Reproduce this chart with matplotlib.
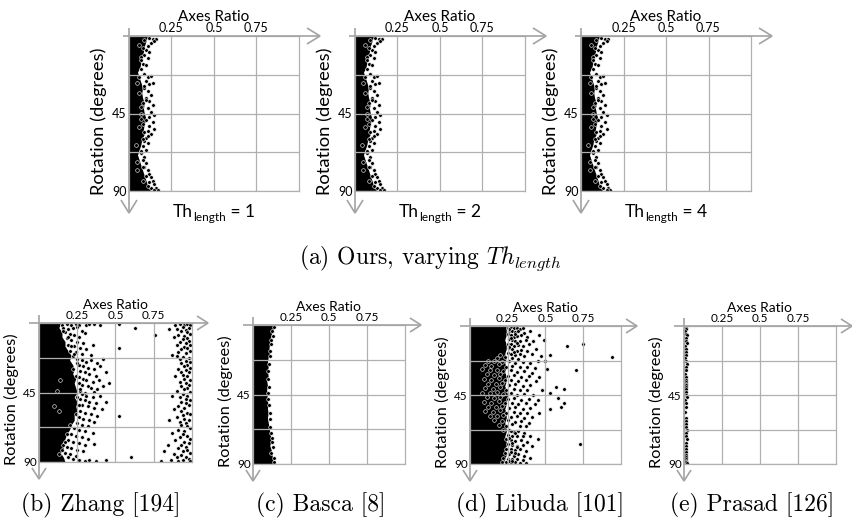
import matplotlib
matplotlib.use("Agg")
import matplotlib.pyplot as plt

# ---------------- data ----------------
# "Ours" panels (Th_length = 1, 2, 4 look identical)
ours_edge_rot = [0, 3, 6, 9, 12, 15, 18, 21, 24, 27, 30, 33, 36, 39, 42, 45, 48, 51, 54, 57, 60, 63, 66, 69, 72, 75, 78, 81, 84, 87, 90]
ours_edge_ratio = [.11, .10, .09, .085, .08, .07, .065, .05, .06, .07, .08, .075, .08, .09, .085, .09, .10, .09, .085, .09, .075, .07, .06, .05, .06, .07, .08, .09, .10, .11, .13]
ours_pts_ratio = [0.12, 0.14, 0.16, 0.13, 0.11, 0.15, 0.10, 0.12, 0.09, 0.11, 0.08, 0.10, 0.07, 0.09, 0.11, 0.13,
                  0.10, 0.12, 0.14, 0.09, 0.11, 0.13, 0.10, 0.12, 0.14, 0.11, 0.13, 0.15, 0.12, 0.10, 0.14, 0.12,
                  0.15, 0.11, 0.13, 0.10, 0.09, 0.11, 0.08, 0.10, 0.07, 0.09, 0.08, 0.10, 0.09, 0.11, 0.12, 0.10,
                  0.13, 0.14, 0.12, 0.15, 0.16, 0.13, 0.17, 0.15,
                  0.06, 0.07, 0.05, 0.06, 0.07, 0.07, 0.06, 0.04, 0.05, 0.08,
                  0.09, 0.08, 0.07, 0.06, 0.09, 0.10, 0.08, 0.07, 0.08, 0.09, 0.11, 0.08, 0.07, 0.05, 0.08, 0.11]
ours_pts_rot = [1, 2, 1.5, 4, 6, 3, 8, 9, 11, 13, 16, 17, 19, 22, 24, 23,
                26, 28, 27, 30, 32, 34, 36, 38, 40, 42, 44, 46, 47, 49, 50, 52,
                54, 55, 57, 59, 61, 62, 64, 66, 68, 70, 72, 74, 76, 78, 80, 81,
                82, 84, 85, 86, 88, 88.5, 89.5, 89.5,
                5, 12, 27, 33, 41, 48, 53, 63, 78, 84,
                2.5, 7, 14, 24, 29, 37, 39, 45, 51, 56, 58, 60, 67, 73, 76, 87]

# Zhang [194]
zhang_edge_rot = [0, 3, 6, 9, 12, 15, 18, 21, 24, 27, 30, 33, 36, 39, 42, 45, 48, 51, 54, 57, 60, 63, 66, 69, 72, 75, 78, 81, 84, 87, 90]
zhang_edge_ratio = [.14, .13, .15, .15, .17, .17, .19, .21, .20, .22, .23, .22, .24, .23, .24, .25, .23, .25, .24, .25, .23, .23, .21, .20, .18, .17, .15, .16, .14, .16, .17]
zhang_mid_ratio = [0.15, 0.18, 0.21, 0.24, 0.26, 0.31, 0.33, 0.36, 0.40, 0.52,
                   0.16, 0.19, 0.22, 0.25, 0.28, 0.17, 0.20, 0.23, 0.26, 0.30, 0.63, 0.18, 0.21, 0.25, 0.29, 0.76, 0.52, 0.35,
                   0.19, 0.23, 0.27, 0.31, 0.20, 0.24, 0.28, 0.34, 0.22,
                   0.25, 0.28, 0.31, 0.34, 0.38, 0.42, 0.26, 0.29, 0.32, 0.36, 0.40, 0.27, 0.30, 0.33, 0.37, 0.44,
                   0.26, 0.29, 0.31, 0.35, 0.39, 0.46, 0.28, 0.32, 0.34, 0.38, 0.27, 0.30, 0.36, 0.42, 0.14, 0.12,
                   0.28, 0.31, 0.35, 0.40, 0.27, 0.30, 0.33, 0.37, 0.44, 0.28, 0.32, 0.36, 0.41, 0.52, 0.27, 0.30,
                   0.34, 0.38, 0.26, 0.29, 0.33, 0.36, 0.25, 0.28, 0.32, 0.10, 0.13,
                   0.23, 0.26, 0.30, 0.35, 0.21, 0.24, 0.28, 0.32, 0.19, 0.22, 0.26, 0.30, 0.36, 0.18, 0.21, 0.25,
                   0.29, 0.17, 0.20, 0.24, 0.19, 0.22, 0.26, 0.30, 0.33, 0.37, 0.44, 0.60, 0.16, 0.13,
                   0.16, 0.19, 0.21, 0.23, 0.25, 0.22, 0.24, 0.26, 0.27, 0.25, 0.26, 0.24, 0.20, 0.18, 0.17, 0.15]
zhang_mid_rot = [1, 0.8, 1.2, 0.7, 1.0, 1.1, 0.9, 0.8, 1.3, 0.8,
                 3, 4, 3.5, 2.5, 5, 6, 7, 8, 9, 6.5, 3, 10, 11, 12, 13, 8, 16, 14,
                 14, 15, 16, 17, 18, 19, 20, 21, 21.5,
                 23, 24, 25, 24, 26, 23.5, 27, 28, 29, 30, 28, 31, 32, 33, 34, 32,
                 35, 36, 37, 38, 37, 39, 40, 41, 42, 43, 44, 45, 44.5, 41, 37, 44,
                 46, 47, 48, 47.5, 49, 50, 51, 52, 51, 53, 54, 55, 56, 60, 57, 58,
                 59, 60, 61, 62, 63, 64, 65, 66, 67, 54, 57,
                 68, 69, 70, 71, 72, 73, 74, 75, 76, 77, 78, 79, 78.5, 80, 81, 82,
                 83, 84, 85, 86, 87, 88, 89, 89.2, 88.8, 89.5, 89, 87, 79, 85,
                 5, 9, 15, 20, 26, 30, 34, 39, 43, 48, 53, 59, 66, 72, 77, 82]
zhang_right_ratio = [0.92, 0.95, 0.97, 0.89, 0.99, 0.94, 0.98, 0.90, 0.85, 0.96,
                     0.93, 0.97, 0.99, 0.91, 0.95, 0.88, 0.97, 0.94, 0.98, 0.92, 0.96, 0.99, 0.90,
                     0.95, 0.97, 0.93, 0.99, 0.91, 0.96, 0.87, 0.90, 0.94, 0.98, 0.92, 0.96, 0.99,
                     0.93, 0.97, 0.95, 0.99, 0.91, 0.96, 0.93, 0.98, 0.94, 0.97, 0.89,
                     0.95, 0.99, 0.92, 0.96, 0.98, 0.93, 0.97, 0.95, 0.90, 0.99,
                     0.94, 0.97, 0.92, 0.96, 0.99, 0.87, 0.93, 0.96, 0.98, 0.91, 0.95,
                     0.88, 0.93, 0.97, 0.99, 0.94, 0.90, 0.95, 0.98, 0.92, 0.96, 0.85,
                     0.93, 0.97, 0.99, 0.91, 0.95, 0.87, 0.94, 0.97, 0.92, 0.99,
                     0.89, 0.95, 0.98, 0.93, 0.96, 0.84, 0.91, 0.97, 0.94, 0.99, 0.88, 0.82,
                     0.93, 0.96, 0.90, 0.98, 0.86, 0.94, 0.99, 0.80, 0.91]
zhang_right_rot = [0.5, 1, 0.8, 1.5, 1.6, 2.5, 3, 3.8, 4, 4.5,
                   5.5, 6, 7, 7.5, 8.5, 9, 9.8, 10.5, 11.5, 12, 13, 14, 14.5,
                   15.5, 16.5, 17, 18, 19, 19.5, 21, 21.5, 22, 22.6, 23.5, 24.5, 25,
                   26, 27, 28, 29, 29.5, 30.5, 31.5, 32, 33.5, 34.5, 34,
                   36, 37, 38, 39, 40, 41, 42, 43, 44, 44.5,
                   46, 47, 48, 49, 50, 47, 51, 52, 53, 54, 55,
                   56, 57, 58, 59, 59.5, 61, 62, 63, 64, 65, 63,
                   66, 67, 68, 69, 70, 71, 72, 73, 74, 75,
                   76, 77, 78, 79, 80, 79, 81, 82, 83, 84, 84.5, 83,
                   85.5, 86.5, 87, 88, 88.5, 89, 89.5, 89.3, 89.6]

# Basca [8]
basca_edge_rot = [0, 3, 6, 9, 12, 15, 18, 21, 24, 27, 30, 33, 36, 39, 42, 45, 48, 51, 54, 57, 60, 63, 66, 69, 72, 75, 78, 81, 84, 87, 90]
basca_edge_ratio = [.13, .135, .12, .115, .11, .105, .11, .10, .095, .10, .095, .10, .09, .095, .09, .095, .09, .10, .095, .10, .095, .10, .105, .11, .115, .12, .11, .12, .125, .13, .135]
basca_pts_ratio = [0.14, 0.125, 0.13, 0.12, 0.115, 0.105, 0.10, 0.10, 0.105, 0.11, 0.12, 0.125, 0.13, 0.12, 0.135, 0.14,
                   0.12, 0.11, 0.10, 0.105, 0.10, 0.11, 0.115, 0.125]
basca_pts_rot = [1, 4, 7, 12, 17, 25, 35, 44, 52, 61, 70, 73, 79, 83, 86, 89,
                 10, 20, 30, 40, 48, 57, 66, 76]

# Libuda [101]
libuda_edge_rot = [0, 3, 6, 9, 12, 15, 18, 21, 24, 27, 30, 33, 36, 39, 42, 45, 48, 51, 54, 57, 60, 63, 66, 69, 72, 75, 78, 81, 84, 87, 90]
libuda_edge_ratio = [.24, .24, .24, .23, .24, .24, .23, .24, .23, .24, .23, .24, .24, .23, .24, .25, .24, .24, .23, .24, .24, .23, .24, .24, .23, .24, .24, .23, .24, .23, .22]
libuda_pts_ratio = [0.25, 0.27, 0.29, 0.31, 0.33, 0.35, 0.26, 0.28, 0.30, 0.32, 0.36, 0.40, 0.25, 0.27, 0.29, 0.31,
                    0.34, 0.38, 0.46, 0.26, 0.28, 0.30, 0.33, 0.37, 0.42, 0.49, 0.25, 0.27, 0.29, 0.32, 0.35, 0.39,
                    0.64, 0.75, 0.26, 0.28, 0.31, 0.34, 0.38, 0.44, 0.53, 0.25, 0.27, 0.30, 0.33, 0.36, 0.41, 0.47,
                    0.94, 0.23, 0.28, 0.32, 0.20, 0.18,
                    0.12, 0.16, 0.21, 0.26, 0.30, 0.35, 0.40, 0.45, 0.50, 0.10, 0.14, 0.19, 0.24, 0.28, 0.33, 0.38,
                    0.43, 0.08, 0.13, 0.18, 0.22, 0.27, 0.31, 0.36, 0.41, 0.51, 0.70, 0.11, 0.16, 0.20, 0.25, 0.29,
                    0.34, 0.39, 0.46, 0.09, 0.14, 0.19, 0.23, 0.27, 0.32, 0.37, 0.44, 0.12, 0.17, 0.21, 0.26, 0.30,
                    0.35, 0.40, 0.57, 0.62, 0.10, 0.15, 0.20, 0.24, 0.29, 0.33, 0.38, 0.48, 0.08, 0.13, 0.18, 0.22,
                    0.27, 0.31, 0.36, 0.42, 0.53,
                    0.11, 0.16, 0.20, 0.25, 0.29, 0.34, 0.39, 0.45, 0.58, 0.62, 0.09, 0.14, 0.19, 0.23, 0.28, 0.32,
                    0.37, 0.43, 0.12, 0.17, 0.21, 0.26, 0.30, 0.35, 0.40, 0.53, 0.60, 0.10, 0.15, 0.20, 0.24, 0.29,
                    0.33, 0.38, 0.46, 0.13, 0.18, 0.22, 0.27, 0.31, 0.36, 0.41, 0.16, 0.21, 0.25, 0.30, 0.34, 0.39,
                    0.19, 0.24, 0.28, 0.33, 0.37,
                    0.22, 0.26, 0.29, 0.32, 0.36, 0.25, 0.28, 0.31, 0.35, 0.40, 0.45, 0.24, 0.27, 0.30, 0.34, 0.38,
                    0.73, 0.25, 0.28, 0.31, 0.35, 0.41, 0.24, 0.27, 0.30, 0.33, 0.37, 0.23, 0.26, 0.29, 0.32, 0.36,
                    0.22, 0.25, 0.28, 0.31, 0.35, 0.40, 0.21, 0.24, 0.27, 0.30, 0.33, 0.37,
                    0.26, 0.30, 0.27, 0.31, 0.26, 0.29, 0.27, 0.30, 0.26, 0.28, 0.31, 0.27, 0.29, 0.26, 0.28, 0.30]
libuda_pts_rot = [1, 0.8, 1.5, 1.2, 2, 1, 3, 3.5, 4, 3, 4.5, 3, 5.5, 6, 7, 6.5,
                  6, 7, 6, 8.5, 9, 9.5, 10, 9, 10, 9, 11.5, 12, 13, 12.5, 13, 12,
                  13, 12, 14.5, 15, 16, 15.5, 16, 15, 19, 17.5, 18, 19, 18.5, 19.5, 18, 19.7,
                  20, 20.5, 21, 21.5, 19, 21,
                  23, 22.5, 23.5, 23, 24, 23.5, 24, 22.8, 23, 25.5, 26, 25, 26.5, 26, 27, 26.5,
                  27.5, 28, 29, 28.5, 29.5, 29, 30, 29.5, 30.5, 28, 29, 31.5, 32, 31, 32.5, 32,
                  33, 32.5, 33, 34.5, 35, 34, 35.5, 35, 36, 35.5, 36, 37.5, 38, 37, 38.5, 38,
                  39, 38.5, 40, 41, 40.5, 41, 40, 41.5, 41, 42, 41.5, 42, 43.5, 44, 43, 44.5,
                  44, 45, 44.5, 45, 44,
                  46.5, 47, 46, 47.5, 47, 48, 47.5, 48, 47, 50, 49.5, 50, 49, 50.5, 50, 51,
                  50.5, 51, 52.5, 53, 52, 53.5, 53, 54, 53.5, 54, 53, 55.5, 56, 55, 56.5, 56,
                  57, 56.5, 57, 58.5, 59, 58, 59.5, 59, 60, 59.5, 61.5, 62, 61, 62.5, 62, 63,
                  64.5, 65, 64, 65.5, 65,
                  67.5, 68, 69, 68.5, 69.5, 71, 71.5, 72, 71.5, 72, 74, 74, 74.5, 75, 74.5, 75.5,
                  77, 77, 77.5, 78, 77.5, 78.5, 80, 80.5, 81, 80.5, 81.5, 83, 83.5, 84, 83.5, 84.5,
                  86, 86.5, 87, 86.5, 87.5, 86, 88.5, 89, 89.3, 88.8, 89.5, 89.2,
                  2.2, 5, 8, 11, 14, 17, 68.8, 70, 73, 76, 79, 82, 85, 87.8, 88, 82.5]

# Prasad [126]
prasad_pts_ratio = [0.010, 0.015, 0.008, 0.012, 0.018, 0.010, 0.014, 0.020, 0.008, 0.012, 0.016, 0.010, 0.006,
                    0.012, 0.018, 0.010, 0.014, 0.008, 0.012, 0.010, 0.012, 0.014, 0.012, 0.010, 0.016, 0.010,
                    0.012, 0.018, 0.008, 0.014, 0.010, 0.006, 0.012, 0.010, 0.016, 0.012, 0.018, 0.010, 0.014,
                    0.020, 0.012, 0.016, 0.010, 0.014, 0.010, 0.016, 0.012, 0.014, 0.012, 0.018]
prasad_pts_rot = [1, 2, 3.5, 5, 6, 8, 9.5, 11, 13, 15, 17, 19, 21,
                  23, 25, 27, 29, 31, 33, 35, 36.5, 37.5, 38.5, 39.5, 41, 43,
                  45, 46, 48, 50, 53, 56, 60, 62, 64, 66, 68, 70, 72,
                  74, 76, 78, 80, 82, 84, 85.5, 87, 88, 89, 89.5]

top_labels = ["1", "2", "4"]
x_ticks = [0.25, 0.5, 0.75]
x_ticklabels = ["0.25", "0.5", "0.75"]
y_ticks = [22.5, 45, 67.5, 90]
y_ticklabels = ["", "45", "", "90"]
captions_bottom = ["(b) Zhang [194]", "(c) Basca [8]", "(d) Libuda [101]", "(e) Prasad [126]"]

# ---------------- layout ----------------
W, H = 853, 524
fig = plt.figure(figsize=(W / 100, H / 100), dpi=100)
SANS = ['Lato', 'DejaVu Sans']
GRID = '#b0b0b0'
ARROW = '#a3a3a3'

top_boxes = [(129, 36, 299, 191), (355, 36, 525, 191), (581, 36, 751, 191)]
bot_boxes = [(39, 323, 192, 462), (253, 325, 405, 464), (470, 326, 621, 464), (684, 326, 836, 464)]

ov = fig.add_axes([0, 0, 1, 1], zorder=10)
ov.set_xlim(0, W)
ov.set_ylim(H, 0)
ov.axis('off')
ov.patch.set_alpha(0)


def make_axes(box, fs_lab, fs_ylab, fs_tick):
    x0, y0, x1, y1 = box
    ax = fig.add_axes([x0 / W, 1 - y1 / H, (x1 - x0) / W, (y1 - y0) / H])
    ax.set_xlim(0, 1)
    ax.set_ylim(90, 0)
    ax.xaxis.tick_top()
    ax.xaxis.set_label_position('top')
    ax.set_xticks(x_ticks)
    ax.set_xticklabels(x_ticklabels, fontsize=fs_tick, family=SANS)
    ax.set_yticks(y_ticks)
    ax.set_yticklabels(y_ticklabels, fontsize=fs_tick, family=SANS)
    ax.tick_params(length=0, pad=1.5)
    ax.set_xlabel("Axes Ratio", fontsize=fs_lab, family=SANS, labelpad=1)
    ax.set_ylabel("Rotation (degrees)", fontsize=fs_ylab, family=SANS)
    ax.yaxis.set_label_coords(-0.13, 0.45)
    ax.grid(True, color=GRID, lw=0.9)
    ax.set_axisbelow(False)
    for sp in ax.spines.values():
        sp.set_color(GRID)
        sp.set_linewidth(0.9)
    return ax


def arrows(box, el, er, et, eb, hl, hw):
    x0, y0, x1, y1 = box
    kw = dict(color=ARROW, lw=1.2, solid_capstyle='butt', solid_joinstyle='miter')
    tip = x1 + er
    ov.plot([x0 - el, tip], [y0, y0], **kw)
    ov.plot([tip - hl, tip, tip - hl], [y0 - hw, y0, y0 + hw], **kw)
    tipy = y1 + eb
    ov.plot([x0, x0], [y0 - et, tipy], **kw)
    ov.plot([x0 - hw, x0, x0 + hw], [tipy - hl, tipy, tipy - hl], **kw)


def draw(ax, er=None, eratio=None, pr=None, prot=None, s=7):
    if er is not None:
        ax.fill_betweenx(er, 0, eratio, color='black', lw=0, zorder=1)
    if pr is not None:
        ax.scatter(pr, prot, s=s, c='black', edgecolors='white', linewidths=0.4,
                   marker='o', zorder=1.5)


renderer = fig.canvas.get_renderer()


def compose(pieces, cx, base_y):
    """pieces: list of (text, fontsize, baseline shift px); centred at cx."""
    objs = []
    total = 0
    for txt, fs, dy in pieces:
        t = ov.text(0, base_y + dy, txt, fontsize=fs, family=SANS, ha='left', va='baseline')
        w = t.get_window_extent(renderer).width
        objs.append((t, w))
        total += w
    x = cx - total / 2
    for t, w in objs:
        t.set_x(x)
        x += w


for box, lab in zip(top_boxes, top_labels):
    ax = make_axes(box, 11, 13.2, 9)
    draw(ax, ours_edge_rot, ours_edge_ratio, ours_pts_ratio, ours_pts_rot)
    arrows(box, 6, 21, 8, 22, 13, 8)
    x0, y0, x1, y1 = box
    compose([("Th", 12.5, 0), ("length", 8.5, 4), (" = " + lab, 12.5, 0)], (x0 + x1) / 2, y1 + 26)

axs_b = [make_axes(b, 10, 11.8, 8.5) for b in bot_boxes]
draw(axs_b[0], zhang_edge_rot, zhang_edge_ratio, zhang_mid_ratio, zhang_mid_rot)
draw(axs_b[0], None, None, zhang_right_ratio, zhang_right_rot)
draw(axs_b[1], basca_edge_rot, basca_edge_ratio, basca_pts_ratio, basca_pts_rot)
draw(axs_b[2], libuda_edge_rot, libuda_edge_ratio, libuda_pts_ratio, libuda_pts_rot)
draw(axs_b[3], None, None, prasad_pts_ratio, prasad_pts_rot)
for b in bot_boxes:
    arrows(b, 10, 16, 8, 17, 11, 7)

ov.text(430, 258, r"(a) Ours, varying $Th_{length}$", fontsize=17, family='cmr10',
        math_fontfamily='cm', ha='center', va='center')
for cx, cap in zip([101, 321, 540, 752], captions_bottom):
    ov.text(cx, 505, cap, fontsize=17, family='cmr10', ha='center', va='center')

fig.savefig("out.png", dpi=100)
